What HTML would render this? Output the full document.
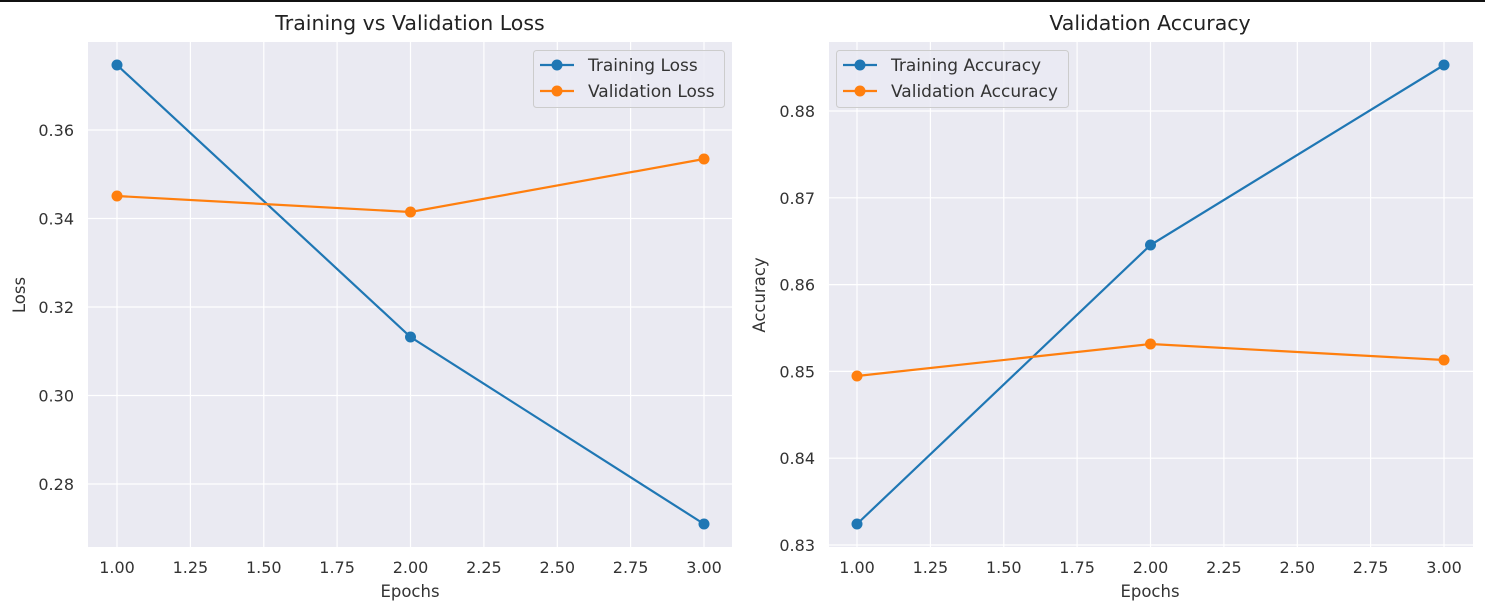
<!DOCTYPE html><html><head><style>body{margin:0;background:#fff}svg{display:block;font-family:"DejaVu Sans","Liberation Sans",sans-serif}</style></head><body>
<svg width="1485" height="611" xmlns="http://www.w3.org/2000/svg">
<rect x="0" y="0" width="1485" height="2" fill="#111"/>
<!-- left -->
<rect x="88" y="42" width="644" height="505" fill="#eaeaf2"/>
<g stroke="#fff" stroke-width="1.2">
<line x1="117" y1="42" x2="117" y2="547"/><line x1="190.4" y1="42" x2="190.4" y2="547"/><line x1="263.8" y1="42" x2="263.8" y2="547"/><line x1="337.1" y1="42" x2="337.1" y2="547"/><line x1="410.5" y1="42" x2="410.5" y2="547"/><line x1="483.9" y1="42" x2="483.9" y2="547"/><line x1="557.3" y1="42" x2="557.3" y2="547"/><line x1="630.6" y1="42" x2="630.6" y2="547"/><line x1="704" y1="42" x2="704" y2="547"/>
<line x1="88" y1="130" x2="732" y2="130"/><line x1="88" y1="218.5" x2="732" y2="218.5"/><line x1="88" y1="307" x2="732" y2="307"/><line x1="88" y1="395.5" x2="732" y2="395.5"/><line x1="88" y1="484" x2="732" y2="484"/>
</g>
<g font-size="16" fill="#333" text-anchor="middle">
<text x="117" y="573">1.00</text><text x="190.4" y="573">1.25</text><text x="263.8" y="573">1.50</text><text x="337.1" y="573">1.75</text><text x="410.5" y="573">2.00</text><text x="483.9" y="573">2.25</text><text x="557.3" y="573">2.50</text><text x="630.6" y="573">2.75</text><text x="704" y="573">3.00</text>
<text x="410" y="597" font-size="16.5">Epochs</text>
</g>
<g font-size="16" fill="#333" text-anchor="end">
<text x="74" y="136">0.36</text><text x="74" y="224.5">0.34</text><text x="74" y="313">0.32</text><text x="74" y="401.5">0.30</text><text x="74" y="490">0.28</text>
</g>
<text transform="translate(25,295) rotate(-90)" font-size="16.5" fill="#333" text-anchor="middle">Loss</text>
<text x="410" y="30" font-size="20.5" fill="#222" text-anchor="middle">Training vs Validation Loss</text>
<polyline points="117,65 410.5,337 704,524" fill="none" stroke="#1f77b4" stroke-width="2.2"/>
<polyline points="117,196 410.5,212 704,159" fill="none" stroke="#ff7f0e" stroke-width="2.2"/>
<g fill="#1f77b4"><circle cx="117" cy="65" r="5.5"/><circle cx="410.5" cy="337" r="5.5"/><circle cx="704" cy="524" r="5.5"/></g>
<g fill="#ff7f0e"><circle cx="117" cy="196" r="5.5"/><circle cx="410.5" cy="212" r="5.5"/><circle cx="704" cy="159" r="5.5"/></g>
<rect x="533.5" y="50.5" width="191" height="57" rx="3" fill="#eaeaf2" fill-opacity="0.8" stroke="#ccc"/>
<line x1="540" y1="65" x2="574" y2="65" stroke="#1f77b4" stroke-width="2.2"/><circle cx="557" cy="65" r="5.5" fill="#1f77b4"/>
<line x1="540" y1="91" x2="574" y2="91" stroke="#ff7f0e" stroke-width="2.2"/><circle cx="557" cy="91" r="5.5" fill="#ff7f0e"/>
<text x="588" y="71" font-size="17" fill="#333">Training Loss</text><text x="588" y="97" font-size="17" fill="#333">Validation Loss</text>
<!-- right -->
<rect x="829" y="42" width="644" height="505" fill="#eaeaf2"/>
<g stroke="#fff" stroke-width="1.2">
<line x1="857" y1="42" x2="857" y2="547"/><line x1="930.4" y1="42" x2="930.4" y2="547"/><line x1="1003.8" y1="42" x2="1003.8" y2="547"/><line x1="1077.1" y1="42" x2="1077.1" y2="547"/><line x1="1150.5" y1="42" x2="1150.5" y2="547"/><line x1="1223.9" y1="42" x2="1223.9" y2="547"/><line x1="1297.3" y1="42" x2="1297.3" y2="547"/><line x1="1370.6" y1="42" x2="1370.6" y2="547"/><line x1="1444" y1="42" x2="1444" y2="547"/>
<line x1="829" y1="111" x2="1473" y2="111"/><line x1="829" y1="197.8" x2="1473" y2="197.8"/><line x1="829" y1="284.6" x2="1473" y2="284.6"/><line x1="829" y1="371.4" x2="1473" y2="371.4"/><line x1="829" y1="458.2" x2="1473" y2="458.2"/><line x1="829" y1="545" x2="1473" y2="545"/>
</g>
<g font-size="16" fill="#333" text-anchor="middle">
<text x="857" y="573">1.00</text><text x="930.4" y="573">1.25</text><text x="1003.8" y="573">1.50</text><text x="1077.1" y="573">1.75</text><text x="1150.5" y="573">2.00</text><text x="1223.9" y="573">2.25</text><text x="1297.3" y="573">2.50</text><text x="1370.6" y="573">2.75</text><text x="1444" y="573">3.00</text>
<text x="1150" y="597" font-size="16.5">Epochs</text>
</g>
<g font-size="16" fill="#333" text-anchor="end">
<text x="815" y="117">0.88</text><text x="815" y="203.8">0.87</text><text x="815" y="290.6">0.86</text><text x="815" y="377.4">0.85</text><text x="815" y="464.2">0.84</text><text x="815" y="551">0.83</text>
</g>
<text transform="translate(765,295) rotate(-90)" font-size="16.5" fill="#333" text-anchor="middle">Accuracy</text>
<text x="1150" y="30" font-size="20.5" fill="#222" text-anchor="middle">Validation Accuracy</text>
<polyline points="857,524 1150.5,245 1444,65" fill="none" stroke="#1f77b4" stroke-width="2.2"/>
<polyline points="857,376 1150.5,344 1444,360" fill="none" stroke="#ff7f0e" stroke-width="2.2"/>
<g fill="#1f77b4"><circle cx="857" cy="524" r="5.5"/><circle cx="1150.5" cy="245" r="5.5"/><circle cx="1444" cy="65" r="5.5"/></g>
<g fill="#ff7f0e"><circle cx="857" cy="376" r="5.5"/><circle cx="1150.5" cy="344" r="5.5"/><circle cx="1444" cy="360" r="5.5"/></g>
<rect x="836.5" y="50.5" width="232" height="57" rx="3" fill="#eaeaf2" fill-opacity="0.8" stroke="#ccc"/>
<line x1="843" y1="65" x2="877" y2="65" stroke="#1f77b4" stroke-width="2.2"/><circle cx="860" cy="65" r="5.5" fill="#1f77b4"/>
<line x1="843" y1="91" x2="877" y2="91" stroke="#ff7f0e" stroke-width="2.2"/><circle cx="860" cy="91" r="5.5" fill="#ff7f0e"/>
<text x="891" y="71" font-size="17" fill="#333">Training Accuracy</text><text x="891" y="97" font-size="17" fill="#333">Validation Accuracy</text>
</svg></body></html>
